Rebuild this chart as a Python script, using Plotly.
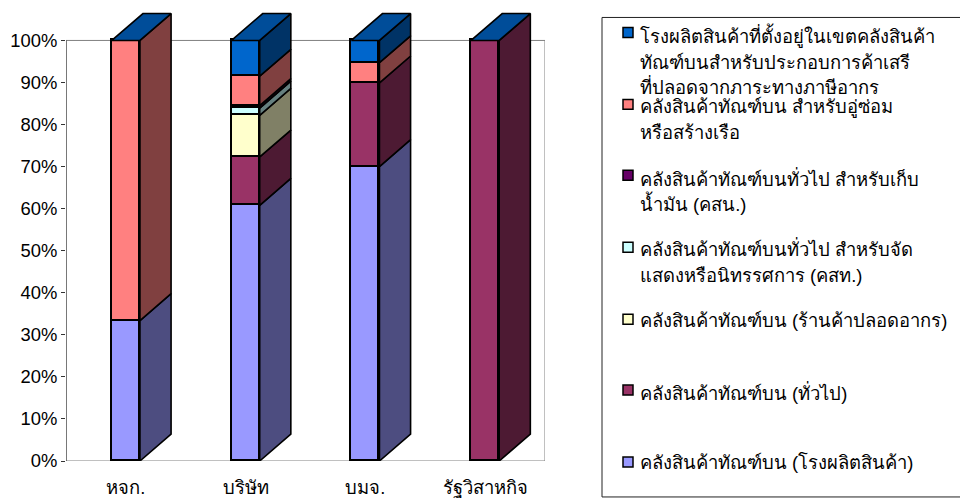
import plotly.graph_objects as go

categories = ["หจก.", "บริษัท", "บมจ.", "รัฐวิสาหกิจ"]
factory = [33.4, 60.8, 70.0, 0.0]
general = [0.0, 11.5, 19.9, 100.0]
duty_free = [0.0, 9.9, 0.0, 0.0]
exhibition = [0.0, 1.7, 0.0, 0.0]
oil = [0.0, 0.6, 0.0, 0.0]
ship = [66.6, 7.0, 4.8, 0.0]
free_zone = [0.0, 8.5, 5.3, 0.0]
series_values = [factory, general, duty_free, exhibition, oil, ship, free_zone]
front_colors = ["#9999FF", "#993366", "#FFFFCC", "#CCFFFF", "#660066", "#FF8080", "#0066CC"]
side_colors = ["#4D4D80", "#4D1A33", "#808066", "#668080", "#330033", "#804040", "#003366"]
top_color = "#004D99"
y_ticks = list(range(0, 101, 10))
legend_lines = [
    ["โรงผลิตสินค้าที่ตั้งอยู่ในเขตคลังสินค้า", "ทัณฑ์บนสำหรับประกอบการค้าเสรี", "ที่ปลอดจากภาระทางภาษีอากร"],
    ["คลังสินค้าทัณฑ์บน สำหรับอู่ซ่อม", "หรือสร้างเรือ"],
    ["คลังสินค้าทัณฑ์บนทั่วไป สำหรับเก็บ", "น้ำมัน (คสน.)"],
    ["คลังสินค้าทัณฑ์บนทั่วไป สำหรับจัด", "แสดงหรือนิทรรศการ (คสท.)"],
    ["คลังสินค้าทัณฑ์บน (ร้านค้าปลอดอากร)"],
    ["คลังสินค้าทัณฑ์บน (ทั่วไป)"],
    ["คลังสินค้าทัณฑ์บน (โรงผลิตสินค้า)"],
]
legend_colors = ["#0066CC", "#FF8080", "#660066", "#CCFFFF", "#FFFFCC", "#993366", "#9999FF"]
legend_swatch_y = [32, 104, 175, 247, 319, 390, 462]
legend_text_y = [[35, 62, 86], [107, 132], [178, 203], [248, 275], [320], [392], [463]]

FONT = "Liberation Sans, Noto Sans, sans-serif"
W, H = 960, 498
L, R, B = 66, 545, 461
Y_MAX = 107.0
PX_PER_UNIT = (461 - 40) / 100
T = B - Y_MAX * PX_PER_UNIT
BAR_W = 0.235
DX, DY = 0.26, 6.4
LW = 1.6
xs = list(range(len(categories)))


def px(x):
    return (x - L) / (R - L)


def py(y):
    return (B - y) / (B - T)


fig = go.Figure()

# front faces
for vals, col in zip(series_values, front_colors):
    fig.add_trace(go.Bar(x=xs, y=vals, width=BAR_W, marker=dict(color=col, line=dict(color="black", width=LW)),
                         hoverinfo="skip", showlegend=False))

# side faces, stacked from the same values
base = [0.0] * len(xs)
for vals, col in zip(series_values, side_colors):
    px_, py_ = [], []
    for i, v in enumerate(vals):
        if v > 0:
            x0 = xs[i] + BAR_W / 2
            px_ += [x0, x0 + DX, x0 + DX, x0, x0, None]
            py_ += [base[i], base[i] + DY, base[i] + v + DY, base[i] + v, base[i], None]
        base[i] += v
    fig.add_trace(go.Scatter(x=px_, y=py_, mode="lines", fill="toself", fillcolor=col,
                             line=dict(color="black", width=LW), hoverinfo="skip", showlegend=False))

# top faces
tx, ty = [], []
for i in xs:
    x0, x1 = xs[i] - BAR_W / 2, xs[i] + BAR_W / 2
    tx += [x0, x1, x1 + DX, x0 + DX, x0, None]
    ty += [base[i], base[i], base[i] + DY, base[i] + DY, base[i], None]
fig.add_trace(go.Scatter(x=tx, y=ty, mode="lines", fill="toself", fillcolor=top_color,
                         line=dict(color="black", width=LW), hoverinfo="skip", showlegend=False))

shapes = [
    dict(type="rect", xref="x", yref="y", x0=-0.5, x1=3.5, y0=0, y1=100, line=dict(color="#808080", width=1),
         layer="below"),
    dict(type="line", xref="x", yref="y", x0=-0.5, x1=-0.5, y0=0, y1=100, line=dict(color="#333333", width=1),
         layer="below"),
    dict(type="rect", xref="paper", yref="paper", x0=px(602), x1=px(970), y0=py(497), y1=py(17),
         line=dict(color="#222222", width=1), layer="below"),
]
annotations = []
for col, sy, lines, tys in zip(legend_colors, legend_swatch_y, legend_lines, legend_text_y):
    shapes.append(dict(type="rect", xref="paper", yref="paper", x0=px(623), x1=px(633), y0=py(sy + 5), y1=py(sy - 5),
                       fillcolor=col, line=dict(color="black", width=1.5)))
    for line, ty_ in zip(lines, tys):
        annotations.append(dict(xref="paper", yref="paper", x=px(640), y=py(ty_), text=line, showarrow=False,
                                xanchor="left", yanchor="middle", align="left", xshift=-2,
                                font=dict(family=FONT, size=18.4, color="black")))

fig.update_layout(
    width=W, height=H, autosize=False, barmode="stack", bargap=0, template="none",
    margin=dict(l=L, r=W - R, t=T, b=H - B, pad=0),
    paper_bgcolor="white", plot_bgcolor="white", font=dict(family=FONT, size=18, color="black"),
    xaxis=dict(range=[-0.5, 3.5], tickmode="array", tickvals=xs, ticktext=categories, ticks="", showgrid=False,
               zeroline=False, showline=False, automargin=False, ticklabelstandoff=14,
               tickfont=dict(family=FONT, size=18.4, color="black")),
    yaxis=dict(range=[0, Y_MAX], tickmode="array", tickvals=y_ticks, ticktext=[f"{v}%" for v in y_ticks],
               ticks="outside", ticklen=4, tickcolor="#333333", showgrid=False, zeroline=False, showline=False,
               automargin=False, tickfont=dict(family=FONT, size=18.4, color="black")),
    shapes=shapes, annotations=annotations,
)
fig.write_html("out.html", config={"displayModeBar": False}, post_script="document.body.style.margin='0';")
